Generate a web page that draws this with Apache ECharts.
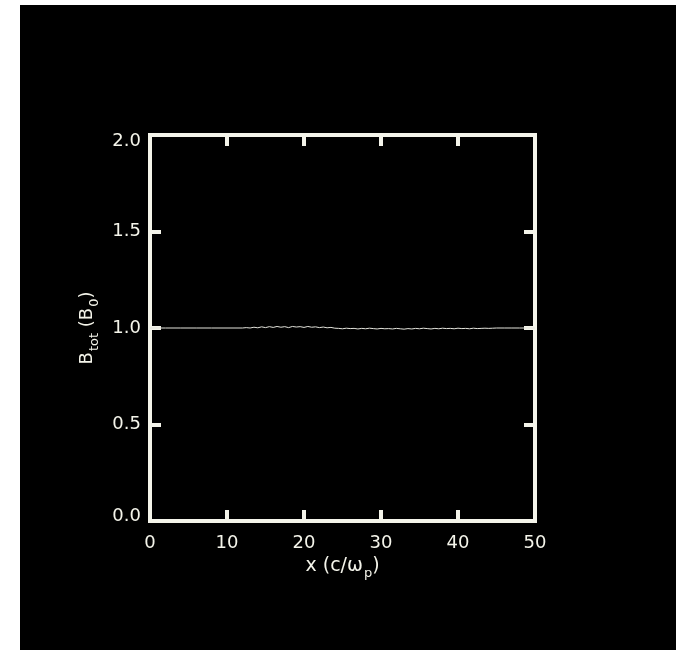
<!DOCTYPE html>
<html>
<head>
<meta charset="utf-8">
<script src="https://cdn.jsdelivr.net/npm/echarts@6/dist/echarts.min.js"></script>
<style>
html,body{margin:0;padding:0;background:#ffffff;}
#c{position:absolute;left:20px;top:5px;width:656px;height:645px;background:#000;}
</style>
</head>
<body>
<div id="c"></div>
<script>
// x positions (c/omega_p) and B_tot values (B_0)
const xValues = [0,2,4,6,8,10,12,12.5,13,13.5,14,14.5,15,15.5,16,16.5,17,17.5,18,18.5,19,19.5,20,20.5,21,21.5,22,22.5,23,23.5,24,24.5,25,25.5,26,26.5,27,27.5,28,28.5,29,29.5,30,30.5,31,31.5,32,32.5,33,33.5,34,34.5,35,35.5,36,36.5,37,37.5,38,38.5,39,39.5,40,40.5,41,41.5,42,42.5,43,43.5,44,44.5,45,46,47,48,49,50];
const bValues = [1.000,1.000,1.000,1.000,1.000,1.000,1.000,1.002,1.000,1.004,1.001,1.006,1.002,1.007,1.003,1.008,1.004,1.007,1.002,1.008,1.005,1.007,1.003,1.008,1.004,1.006,1.002,1.005,1.001,1.003,0.999,0.998,0.996,0.999,0.997,0.998,0.995,0.998,0.996,0.999,0.997,0.995,0.998,0.996,0.997,0.995,0.998,0.996,0.994,0.997,0.995,0.998,0.996,0.999,0.997,0.995,0.998,0.996,0.999,0.997,0.998,0.996,0.999,0.997,0.998,0.996,0.999,0.997,0.998,0.999,0.998,0.999,1.000,1.000,1.000,1.000,1.000,1.000];
const xTicks = ['0','10','20','30','40','50'];
const yTicks = ['0.0','0.5','1.0','1.5','2.0'];

const fg = '#f4f4ea';
const font = 'DejaVu Sans';
const chart = echarts.init(document.getElementById('c'));
const tickStyle = {show:true, inside:true, length:11, lineStyle:{color:fg, width:4}};
const noLine = {show:false, onZero:false};
const lbl = {color:fg, fontFamily:font, fontSize:18};
chart.setOption({
  backgroundColor:'#000',
  animation:false,
  grid:{left:130, right:141, top:130, bottom:129, show:true, borderColor:fg, borderWidth:4, backgroundColor:'transparent'},
  xAxis:[{
    type:'value', min:0, max:50, interval:10, position:'bottom',
    axisLine:noLine, splitLine:{show:false},
    axisTick:tickStyle,
    axisLabel:Object.assign({margin:13, formatter:v=>xTicks[Math.round(v/10)]}, lbl),
    name:'{a|x (c/ω}{s|p}{a|)}', nameLocation:'middle', nameGap:36,
    nameTextStyle:{rich:{
      a:{color:fg, fontFamily:font, fontSize:19, lineHeight:22, verticalAlign:'top'},
      s:{color:fg, fontFamily:font, fontSize:13, lineHeight:15, verticalAlign:'top', padding:[10,0,0,1]}
    }}
  },{
    type:'value', min:0, max:50, interval:10, position:'top',
    axisLine:noLine, splitLine:{show:false},
    axisTick:tickStyle, axisLabel:{show:false}
  }],
  yAxis:[{
    type:'value', min:0, max:2, interval:0.5, position:'left',
    axisLine:noLine, splitLine:{show:false},
    axisTick:tickStyle,
    axisLabel:Object.assign({margin:9,
      formatter:v=>{const i=Math.round(v/0.5);const t=yTicks[i];return i===4?'{hi|'+t+'}':(i===0?'{lo|'+t+'}':t);},
      rich:{
        hi:{color:fg, fontFamily:font, fontSize:18, padding:[12,0,0,0]},
        lo:{color:fg, fontFamily:font, fontSize:18, padding:[0,0,10,0]}
      }}, lbl),
    name:'{a|B}{s|tot}{a| (B}{s|0}{a|)}', nameLocation:'middle', nameGap:46,
    nameTextStyle:{rich:{
      a:{color:fg, fontFamily:font, fontSize:18, lineHeight:22, verticalAlign:'top'},
      s:{color:fg, fontFamily:font, fontSize:13, lineHeight:15, verticalAlign:'top', padding:[10,0,0,1]}
    }}
  },{
    type:'value', min:0, max:2, interval:0.5, position:'right',
    axisLine:noLine, splitLine:{show:false},
    axisTick:tickStyle, axisLabel:{show:false}
  }],
  series:[{
    type:'line', xAxisIndex:0, yAxisIndex:0, showSymbol:false,
    lineStyle:{color:'#e4e4dc', width:1},
    data:xValues.map((x,i)=>[x,bValues[i]])
  }]
});
</script>
</body>
</html>
